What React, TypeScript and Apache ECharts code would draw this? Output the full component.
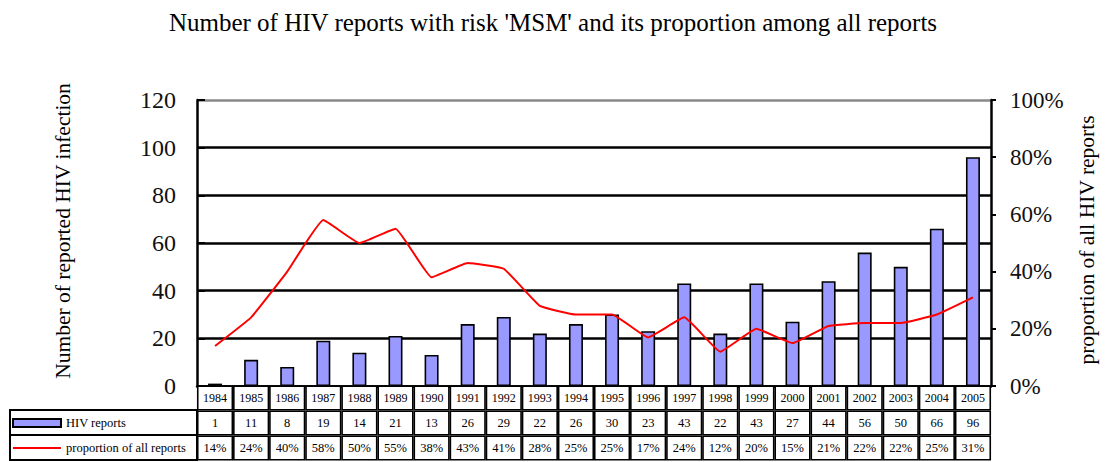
import React, { useEffect, useRef } from "react";
import * as echarts from "echarts";

const years = ["1984","1985","1986","1987","1988","1989","1990","1991","1992","1993","1994","1995","1996","1997","1998","1999","2000","2001","2002","2003","2004","2005"];
const hivReports = [1, 11, 8, 19, 14, 21, 13, 26, 29, 22, 26, 30, 23, 43, 22, 43, 27, 44, 56, 50, 66, 96];
const proportion = [14, 24, 40, 58, 50, 55, 38, 43, 41, 28, 25, 25, 17, 24, 12, 20, 15, 21, 22, 22, 25, 31];
const leftTicks = [0, 20, 40, 60, 80, 100, 120];

const FONT = "'Liberation Serif', 'Times New Roman', serif";

export default function App() {
  const ref = useRef<HTMLDivElement>(null);
  useEffect(() => {
    document.body.style.margin = "0";
    const chart = echarts.init(ref.current!, null, { renderer: "svg" });
    const gridLeft = 197;
    const gridRight = 113;
    const cellLabel = (fs: number, h: number) => ({
      interval: 0,
      fontFamily: FONT,
      fontSize: fs,
      color: "#000",
      width: 33,
      height: h,
      lineHeight: h,
      align: "center",
      verticalAlign: "top",
      borderColor: "#000",
      borderWidth: 1.6,
      backgroundColor: "#fff",
      margin: 1,
    });
    chart.setOption({
      animation: false,
      textStyle: { fontFamily: FONT },
      title: {
        text: "Number of HIV reports with risk 'MSM' and its proportion among all reports",
        left: "center",
        top: 5,
        textStyle: { fontFamily: FONT, fontSize: 25, fontWeight: "normal", color: "#000" },
      },
      legend: {
        orient: "vertical",
        left: 12,
        top: 416,
        padding: 0,
        itemWidth: 48,
        itemHeight: 8,
        itemGap: 11,
        textStyle: { fontFamily: FONT, fontSize: 12.5, color: "#000", lineHeight: 14 },
        data: [
          { name: "HIV reports", icon: "rect" },
          { name: "proportion of all reports", itemStyle: { opacity: 0 } },
        ],
      },
      grid: { left: gridLeft, right: gridRight, top: 100, bottom: 76 },
      xAxis: [
        {
          type: "category",
          data: years,
          axisLine: { lineStyle: { color: "#000", width: 2.5 } },
          axisTick: { show: false },
          axisLabel: cellLabel(12, 22),
        },
        {
          type: "category",
          data: years,
          position: "bottom",
          offset: 25,
          axisLine: { show: false },
          axisTick: { show: false },
          axisLabel: { ...cellLabel(12.5, 22), formatter: (_v: string, i: number) => String(hivReports[i]) },
        },
        {
          type: "category",
          data: years,
          position: "bottom",
          offset: 50,
          axisLine: { show: false },
          axisTick: { show: false },
          axisLabel: { ...cellLabel(12.5, 22), formatter: (_v: string, i: number) => proportion[i] + "%" },
        },
      ],
      yAxis: [
        {
          type: "value",
          min: leftTicks[0],
          max: leftTicks[leftTicks.length - 1],
          interval: 20,
          name: "Number of reported HIV infection",
          nameLocation: "middle",
          nameGap: 123,
          nameTextStyle: { fontFamily: FONT, fontSize: 21.5, color: "#000", padding: [0, 0, 0, 24] },
          axisLine: { show: true, lineStyle: { color: "#000", width: 2.5 } },
          axisTick: { show: true, inside: true, length: 8, lineStyle: { color: "#000", width: 2 } },
          axisLabel: { fontFamily: FONT, fontSize: 24, color: "#111", margin: 21 },
          splitLine: {
            show: true,
            lineStyle: { color: ["#000", "#000", "#000", "#000", "#000", "#000", "#888"], width: 2.5 },
          },
        },
        {
          type: "value",
          min: 0,
          max: 1,
          interval: 0.2,
          name: "proportion of all HIV reports",
          nameLocation: "middle",
          nameGap: 85,
          nameRotate: 90,
          nameTextStyle: { fontFamily: FONT, fontSize: 21.5, color: "#000", padding: [0, 0, 0, 6] },
          axisLine: { show: true, lineStyle: { color: "#000", width: 2.5 } },
          axisTick: { show: true, length: 5, lineStyle: { color: "#000", width: 2 } },
          axisLabel: {
            fontFamily: FONT,
            fontSize: 23,
            color: "#111",
            margin: 19,
            formatter: (v: number) => Math.round(v * 100) + "%",
          },
          splitLine: { show: false },
        },
      ],
      series: [
        {
          name: "HIV reports",
          type: "bar",
          data: hivReports,
          barWidth: 14,
          itemStyle: { color: "#9999ff", borderColor: "#000", borderWidth: 1.6 },
        },
        {
          name: "proportion of all reports",
          type: "line",
          yAxisIndex: 1,
          data: proportion.map((p) => p / 100),
          smooth: 0.1,
          symbol: "none",
          lineStyle: { color: "#ff0000", width: 2 },
          itemStyle: { color: "#ff0000" },
        },
      ],
      graphic: [
        { type: "rect", shape: { x: 10, y: 410, width: gridLeft - 10, height: 25 }, style: { fill: "none", stroke: "#000", lineWidth: 2 } },
        { type: "rect", shape: { x: 10, y: 435, width: gridLeft - 10, height: 25 }, style: { fill: "none", stroke: "#000", lineWidth: 2 } },
      ],
    });
    return () => chart.dispose();
  }, []);
  return <div ref={ref} style={{ width: 1106, height: 462 }} />;
}
